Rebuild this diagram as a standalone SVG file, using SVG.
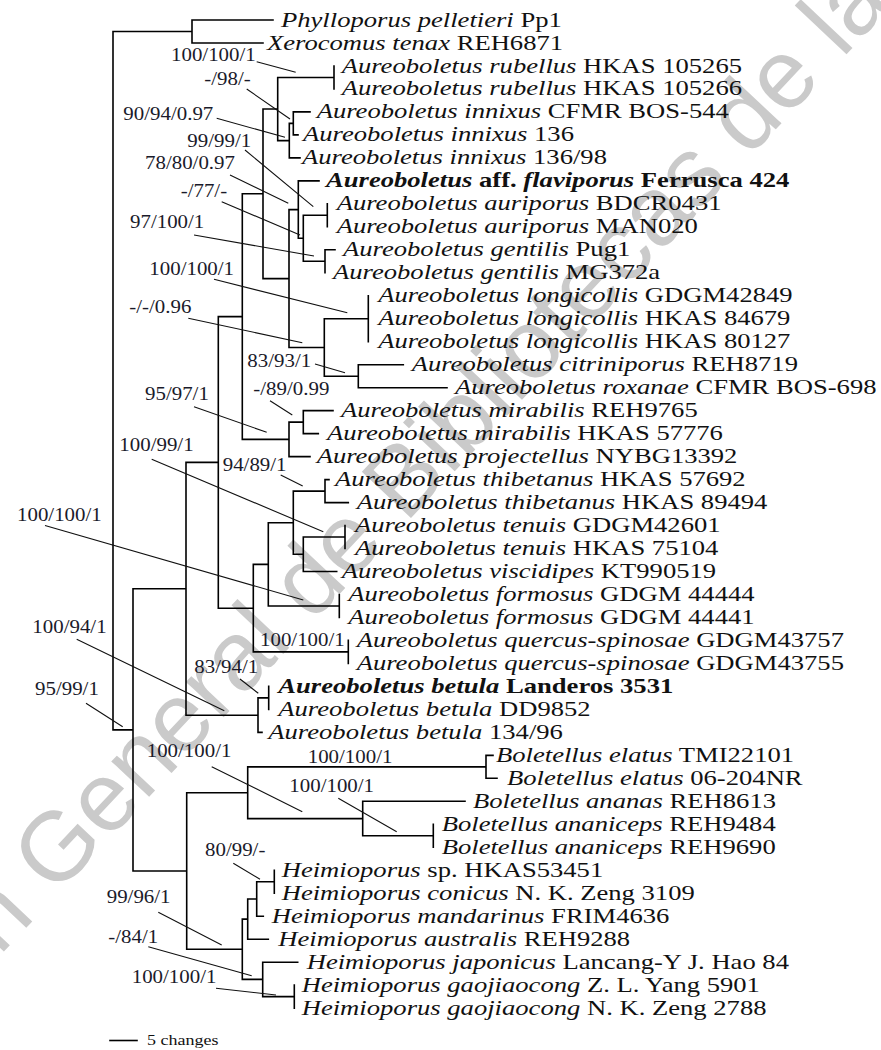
<svg xmlns="http://www.w3.org/2000/svg" width="881" height="1050" viewBox="0 0 881 1050">
<style>
.wm{font-family:"Liberation Sans",Arial,sans-serif;font-size:98px;fill:#cacaca}
.t{font-family:"Liberation Serif","Times New Roman",serif;font-size:22px;fill:#111}
.s{font-family:"Liberation Serif","Times New Roman",serif;font-size:19px;fill:#1a1a2a}
.i{font-style:italic}
.b{font-weight:bold}
.br{fill:none;stroke:#000;stroke-width:1.6;stroke-linecap:square}
.ld{fill:none;stroke:#111;stroke-width:1.1}
</style>
<rect width="881" height="1050" fill="#fff"/>
<g id="watermark">
<text class="wm" transform="translate(55,897) rotate(-46.8)" text-anchor="end" x="-27">Dirección</text>
<text class="wm" transform="translate(55,897) rotate(-46.8)">General de Bibliotecas de la</text>
</g>
<g id="connectors">
<path class="br" d="M113 31.5V729.9 M113 31.5H192 M192 20V43 M192 20H273 M192 43H263
M113 729.9H133 M133 588.8V871
M133 588.8H186 M186 462.4V715.2
M186 462.4H218.3 M218.3 316.6V608.2
M218.3 316.6H242.3 M242.3 193.8V439.4
M242.3 193.8H263 M263 109V278.6
M263 109H277.7 M277.7 77.5V140.6
M277.7 77.5H334 M334 66V88.9
M277.7 140.6H289.3 M289.3 123.4V157.9 M289.3 157.9H300
M289.3 123.4H293.3 M293.3 111.9V134.9 M293.3 111.9H310 M293.3 134.9H298
M263 278.6H289 M289 209.6V347.5
M289 209.6H298.3 M298.3 180.9V238.3 M298.3 180.9H319
M298.3 238.3H303.3 M303.3 215.3V261.3
M303.3 215.3H327.3 M327.3 203.8V226.8
M303.3 261.3H325 M325 249.8V272.8 M325 249.8H335
M289 347.5H324.3 M324.3 318.7V376.2
M324.3 318.7H368.3 M368.3 295.8V341.7
M324.3 376.2H358.3 M358.3 364.7V387.7 M358.3 364.7H403.3 M358.3 387.7H447
M242.3 439.4H289 M289 422.1V456.6 M289 456.6H310
M289 422.1H303.3 M303.3 410.6V433.6 M303.3 410.6H333 M303.3 433.6H318.3
M218.3 608.2H253.3 M253.3 564.4V651.9
M253.3 564.4H268.3 M268.3 522.7V606
M268.3 522.7H293.3 M293.3 491.1V554.3
M293.3 491.1H325 M325 479.6V502.6 M325 479.6H329 M325 502.6H348.3
M293.3 554.3H303.3 M303.3 537V571.5 M303.3 571.5H336.7
M303.3 537H345 M345 525.5V548.5
M268.3 606H339.3 M339.3 594.5V617.5
M253.3 651.9H348.3 M348.3 640.4V663.4
M186 715.2H258 M258 697.9V732.4 M258 732.4H262
M258 697.9H268.7 M268.7 686.4V709.4
M133 871H186.7 M186.7 792.7V949.3
M186.7 792.7H247.7 M247.7 766.9V818.6
M247.7 766.9H486 M486 755.4V778.3 M486 755.4H493 M486 778.3H497
M247.7 818.6H362.7 M362.7 801.3V835.8 M362.7 801.3H465
M362.7 835.8H433.3 M433.3 824.3V847.3
M186.7 949.3H242.3 M242.3 919.1V979.4
M242.3 919.1H247.7 M247.7 899V939.2 M247.7 939.2H268.3
M247.7 899H256.7 M256.7 881.7V916.2 M256.7 916.2H263.3
M256.7 881.7H274.3 M274.3 870.2V893.2
M242.3 979.4H262.7 M262.7 962.2V996.6 M262.7 962.2H297.7
M262.7 996.6H294.3 M294.3 985.1V1008.1"/>
<path class="ld" d="M256.7 61.7L295.7 72.3 M246.7 89L290 119 M216.7 118.3L285 137.3 M245 150L313.3 206.7 M230 175L288.3 203.3 M221.7 201.7L300 235 M194 235L314 256 M214 279.3L347.3 312.7 M188.3 318.3L302.3 342.7 M315 364L345 372.7 M270 400.7L292.3 415 M194 406.7L266.7 432.3 M151.7 459.3L323.3 531.7 M280.7 475L302.7 486 M45 525.5L303.3 600 M76.7 639.3L224.3 710.7 M240 679L258.3 693.3 M86 703.3L122.7 726.7 M211.7 766.7L302.3 811.7 M338.3 798.3L396.7 831.7 M233.3 863.3L260 879.3 M158.3 912.3L221.7 945 M148.3 946.7L251.7 975.7 M216 988.3L276 995"/>
<path class="br" d="M110 1040.5H137"/>
</g>
<g id="support">
<text class="s" transform="translate(171,61) scale(1.1,1)">100/100/1</text>
<text class="s" transform="translate(204.3,85) scale(1.1,1)">-/98/-</text>
<text class="s" transform="translate(123.3,120) scale(1.1,1)">90/94/0.97</text>
<text class="s" transform="translate(187.3,146.7) scale(1.1,1)">99/99/1</text>
<text class="s" transform="translate(145,169.3) scale(1.1,1)">78/80/0.97</text>
<text class="s" transform="translate(180.7,196.5) scale(1.1,1)">-/77/-</text>
<text class="s" transform="translate(130,227.7) scale(1.1,1)">97/100/1</text>
<text class="s" transform="translate(149.3,275) scale(1.1,1)">100/100/1</text>
<text class="s" transform="translate(129.3,313.3) scale(1.1,1)">-/-/0.96</text>
<text class="s" transform="translate(247.3,366.7) scale(1.1,1)">83/93/1</text>
<text class="s" transform="translate(253.3,395) scale(1.1,1)">-/89/0.99</text>
<text class="s" transform="translate(145,400) scale(1.1,1)">95/97/1</text>
<text class="s" transform="translate(119.3,451) scale(1.1,1)">100/99/1</text>
<text class="s" transform="translate(222.7,470.7) scale(1.1,1)">94/89/1</text>
<text class="s" transform="translate(17,521) scale(1.1,1)">100/100/1</text>
<text class="s" transform="translate(32.3,633.3) scale(1.1,1)">100/94/1</text>
<text class="s" transform="translate(260,646) scale(1.1,1)">100/100/1</text>
<text class="s" transform="translate(194.3,673.3) scale(1.1,1)">83/94/1</text>
<text class="s" transform="translate(35,695) scale(1.1,1)">95/99/1</text>
<text class="s" transform="translate(146.7,757) scale(1.1,1)">100/100/1</text>
<text class="s" transform="translate(307.7,762.5) scale(1.1,1)">100/100/1</text>
<text class="s" transform="translate(289.3,791.7) scale(1.1,1)">100/100/1</text>
<text class="s" transform="translate(205,856) scale(1.1,1)">80/99/-</text>
<text class="s" transform="translate(106.7,902.7) scale(1.1,1)">99/96/1</text>
<text class="s" transform="translate(108.3,943.3) scale(1.1,1)">-/84/1</text>
<text class="s" transform="translate(131.7,982.7) scale(1.1,1)">100/100/1</text>
</g>
<g id="scale"><text class="t" style="font-size:15px" transform="translate(147,1045) scale(1.2,1)">5 changes</text></g>
<g id="taxa">
<g id="n1"><text class="t" transform="translate(281,26.5) scale(1.21,1)"><tspan class="i">Phylloporus pelletieri</tspan> Pp1</text></g>
<g id="n2"><text class="t" transform="translate(267,49.5) scale(1.21,1)"><tspan class="i">Xerocomus tenax</tspan> REH6871</text></g>
<g id="n3"><text class="t" transform="translate(341.7,72.5) scale(1.21,1)"><tspan class="i">Aureoboletus rubellus</tspan> HKAS 105265</text></g>
<g id="n4"><text class="t" transform="translate(341.7,95.4) scale(1.21,1)"><tspan class="i">Aureoboletus rubellus</tspan> HKAS 105266</text></g>
<g id="n5"><text class="t" transform="translate(316.7,118.4) scale(1.21,1)"><tspan class="i">Aureoboletus innixus</tspan> CFMR BOS-544</text></g>
<g id="n6"><text class="t" transform="translate(303,141.4) scale(1.21,1)"><tspan class="i">Aureoboletus innixus</tspan> 136</text></g>
<g id="n7"><text class="t" transform="translate(302,164.4) scale(1.21,1)"><tspan class="i">Aureoboletus innixus</tspan> 136/98</text></g>
<g id="n8"><text class="t b" transform="translate(326,187.4) scale(1.21,1)"><tspan class="i">Aureoboletus</tspan> aff. <tspan class="i">flaviporus</tspan> Ferrusca 424</text></g>
<g id="n9"><text class="t" transform="translate(336.7,210.3) scale(1.21,1)"><tspan class="i">Aureoboletus auriporus</tspan> BDCR0431</text></g>
<g id="n10"><text class="t" transform="translate(336.7,233.3) scale(1.21,1)"><tspan class="i">Aureoboletus auriporus</tspan> MAN020</text></g>
<g id="n11"><text class="t" transform="translate(343,256.3) scale(1.21,1)"><tspan class="i">Aureoboletus gentilis</tspan> Pug1</text></g>
<g id="n12"><text class="t" transform="translate(333,279.3) scale(1.21,1)"><tspan class="i">Aureoboletus gentilis</tspan> MG372a</text></g>
<g id="n13"><text class="t" transform="translate(378.3,302.3) scale(1.21,1)"><tspan class="i">Aureoboletus longicollis</tspan> GDGM42849</text></g>
<g id="n14"><text class="t" transform="translate(378.3,325.2) scale(1.21,1)"><tspan class="i">Aureoboletus longicollis</tspan> HKAS 84679</text></g>
<g id="n15"><text class="t" transform="translate(378.3,348.2) scale(1.21,1)"><tspan class="i">Aureoboletus longicollis</tspan> HKAS 80127</text></g>
<g id="n16"><text class="t" transform="translate(411.7,371.2) scale(1.21,1)"><tspan class="i">Aureoboletus citriniporus</tspan> REH8719</text></g>
<g id="n17"><text class="t" transform="translate(455,394.2) scale(1.21,1)"><tspan class="i">Aureoboletus roxanae</tspan> CFMR BOS-698</text></g>
<g id="n18"><text class="t" transform="translate(341,417.1) scale(1.21,1)"><tspan class="i">Aureoboletus mirabilis</tspan> REH9765</text></g>
<g id="n19"><text class="t" transform="translate(327,440.1) scale(1.21,1)"><tspan class="i">Aureoboletus mirabilis</tspan> HKAS 57776</text></g>
<g id="n20"><text class="t" transform="translate(316.7,463.1) scale(1.21,1)"><tspan class="i">Aureoboletus projectellus</tspan> NYBG13392</text></g>
<g id="n21"><text class="t" transform="translate(335,486.1) scale(1.21,1)"><tspan class="i">Aureoboletus thibetanus</tspan> HKAS 57692</text></g>
<g id="n22"><text class="t" transform="translate(356.7,509.1) scale(1.21,1)"><tspan class="i">Aureoboletus thibetanus</tspan> HKAS 89494</text></g>
<g id="n23"><text class="t" transform="translate(355,532) scale(1.21,1)"><tspan class="i">Aureoboletus tenuis</tspan> GDGM42601</text></g>
<g id="n24"><text class="t" transform="translate(355,555) scale(1.21,1)"><tspan class="i">Aureoboletus tenuis</tspan> HKAS 75104</text></g>
<g id="n25"><text class="t" transform="translate(341.7,578) scale(1.21,1)"><tspan class="i">Aureoboletus viscidipes</tspan> KT990519</text></g>
<g id="n26"><text class="t" transform="translate(348.3,601) scale(1.21,1)"><tspan class="i">Aureoboletus formosus</tspan> GDGM 44444</text></g>
<g id="n27"><text class="t" transform="translate(348.3,624) scale(1.21,1)"><tspan class="i">Aureoboletus formosus</tspan> GDGM 44441</text></g>
<g id="n28"><text class="t" transform="translate(356.7,646.9) scale(1.21,1)"><tspan class="i">Aureoboletus quercus-spinosae</tspan> GDGM43757</text></g>
<g id="n29"><text class="t" transform="translate(356.7,669.9) scale(1.21,1)"><tspan class="i">Aureoboletus quercus-spinosae</tspan> GDGM43755</text></g>
<g id="n30"><text class="t b" transform="translate(278.3,692.9) scale(1.21,1)"><tspan class="i">Aureoboletus betula</tspan> Landeros 3531</text></g>
<g id="n31"><text class="t" transform="translate(278.3,715.9) scale(1.21,1)"><tspan class="i">Aureoboletus betula</tspan> DD9852</text></g>
<g id="n32"><text class="t" transform="translate(268.3,738.9) scale(1.21,1)"><tspan class="i">Aureoboletus betula</tspan> 134/96</text></g>
<g id="n33"><text class="t" transform="translate(496,761.9) scale(1.21,1)"><tspan class="i">Boletellus elatus</tspan> TMI22101</text></g>
<g id="n34"><text class="t" transform="translate(507,784.8) scale(1.21,1)"><tspan class="i">Boletellus elatus</tspan> 06-204NR</text></g>
<g id="n35"><text class="t" transform="translate(473,807.8) scale(1.21,1)"><tspan class="i">Boletellus ananas</tspan> REH8613</text></g>
<g id="n36"><text class="t" transform="translate(441.7,830.8) scale(1.21,1)"><tspan class="i">Boletellus ananiceps</tspan> REH9484</text></g>
<g id="n37"><text class="t" transform="translate(441.7,853.8) scale(1.21,1)"><tspan class="i">Boletellus ananiceps</tspan> REH9690</text></g>
<g id="n38"><text class="t" transform="translate(281.7,876.7) scale(1.21,1)"><tspan class="i">Heimioporus</tspan> sp. HKAS53451</text></g>
<g id="n39"><text class="t" transform="translate(281.7,899.7) scale(1.21,1)"><tspan class="i">Heimioporus conicus</tspan> N. K. Zeng 3109</text></g>
<g id="n40"><text class="t" transform="translate(271.7,922.7) scale(1.21,1)"><tspan class="i">Heimioporus mandarinus</tspan> FRIM4636</text></g>
<g id="n41"><text class="t" transform="translate(278.3,945.7) scale(1.21,1)"><tspan class="i">Heimioporus australis</tspan> REH9288</text></g>
<g id="n42"><text class="t" transform="translate(306.7,968.7) scale(1.21,1)"><tspan class="i">Heimioporus japonicus</tspan> Lancang-Y J. Hao 84</text></g>
<g id="n43"><text class="t" transform="translate(301.7,991.6) scale(1.21,1)"><tspan class="i">Heimioporus gaojiaocong</tspan> Z. L. Yang 5901</text></g>
<g id="n44"><text class="t" transform="translate(301.7,1014.6) scale(1.21,1)"><tspan class="i">Heimioporus gaojiaocong</tspan> N. K. Zeng 2788</text></g>
</g>
</svg>
